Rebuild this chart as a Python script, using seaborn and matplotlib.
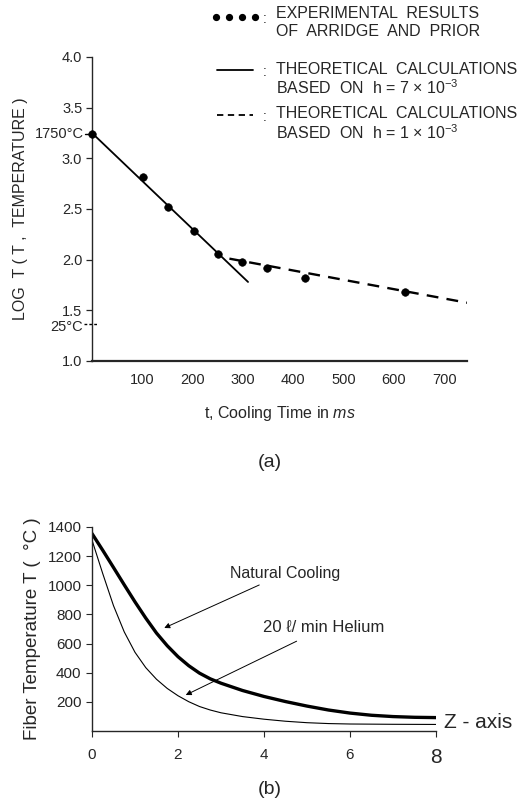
import numpy as np
import pandas as pd
import matplotlib
matplotlib.use("Agg")
import matplotlib.pyplot as plt
from matplotlib.lines import Line2D
import seaborn as sns

# ---------------- data (a) ----------------
exp_t = [0, 102, 151, 202, 250, 298, 348, 424, 622]
exp_logT = [3.24, 2.82, 2.52, 2.28, 2.06, 1.98, 1.915, 1.82, 1.68]
solid_t = [0, 310]
solid_logT = [3.25, 1.78]
dashed_t = [273, 745]
dashed_logT = [2.01, 1.575]
a_xticks = [100, 200, 300, 400, 500, 600, 700]
a_yticks = [1.0, 1.5, 2.0, 2.5, 3.0, 3.5, 4.0]
mark_hot = 3.24      # 1750 C
mark_cold = 1.37     # 25 C

# ---------------- data (b) ----------------
natural_z = [0, 0.25, 0.5, 0.75, 1.0, 1.25, 1.5, 1.75, 2.0, 2.25, 2.5, 2.75, 3.0, 3.5,
             4.0, 4.5, 5.0, 5.5, 6.0, 6.5, 7.0, 7.5, 8.0]
natural_T = [1355, 1240, 1122, 1003, 886, 775, 672, 585, 510, 448, 397, 358, 328, 278,
             237, 202, 171, 144, 123, 108, 99, 94, 92]
helium_z = [0, 0.25, 0.5, 0.75, 1.0, 1.25, 1.5, 1.75, 2.0, 2.25, 2.5, 2.75, 3.0, 3.5,
            4.0, 4.5, 5.0, 5.5, 6.0, 7.0, 8.0]
helium_T = [1310, 1080, 860, 680, 540, 435, 355, 292, 242, 201, 168, 144, 125, 99,
            81, 67, 57, 51, 48, 46, 45]
b_xticks = [0, 2, 4, 6, 8]
b_yticks = [200, 400, 600, 800, 1000, 1200, 1400]

sns.set_style("ticks")
plt.rcParams['font.family'] = ['Liberation Sans', 'DejaVu Sans']
plt.rcParams['mathtext.fontset'] = 'custom'
plt.rcParams['mathtext.rm'] = 'Liberation Sans'
plt.rcParams['mathtext.it'] = 'Liberation Sans:italic'

W, H = 521, 802
fig = plt.figure(figsize=(W / 100, H / 100), dpi=100)

def box(x0, y0, x1, y1):
    return [x0 / W, 1 - y1 / H, (x1 - x0) / W, (y1 - y0) / H]

def fx(px):
    return px / W

def fy(py):
    return 1 - py / H

# ================= panel (a) =================
ax = fig.add_axes(box(92, 57, 467, 361))
sns.lineplot(x=solid_t, y=solid_logT, ax=ax, color='black', lw=1.3)
sns.lineplot(x=dashed_t, y=dashed_logT, ax=ax, color='black', lw=1.7)
ax.lines[-1].set_dashes((5, 3.5))
sns.scatterplot(x=exp_t, y=exp_logT, ax=ax, color='black', s=30, edgecolor='black',
                zorder=5, clip_on=False)
ax.set_xlim(0, 745)
ax.set_ylim(1.0, 4.0)
ax.set_xticks(a_xticks)
ax.set_xticklabels([str(v) for v in a_xticks], fontsize=10.5)
ax.set_yticks(a_yticks)
ax.set_yticklabels([f"{v:.1f}" for v in a_yticks], fontsize=10.5)
ax.tick_params(axis='x', length=0, pad=9)
ax.tick_params(axis='y', length=4, width=0.9, pad=3, direction='out')
for s in ['top', 'right']:
    ax.spines[s].set_visible(False)
ax.spines['left'].set_linewidth(1.0)
ax.spines['bottom'].set_linewidth(1.6)
ax.set_ylabel("LOG  T ( T ,  TEMPERATURE )", fontsize=11.5)
ax.yaxis.set_label_coords(-0.17, 0.5)
ax.set_xlabel(r"t, Cooling Time in $\it{ms}$", fontsize=11.5, labelpad=12)
# special temperature markers
ax.plot([-14, 0], [mark_hot, mark_hot], color='black', lw=1.0, clip_on=False)
ax.text(-16, mark_hot, "1750°C", ha='right', va='center', fontsize=10.5)
ax.plot([-16, 10], [mark_cold, mark_cold], color='black', lw=1.0, ls=(0, (2, 1.5)),
        clip_on=False)
ax.text(-18, mark_cold - 0.03, "25°C", ha='right', va='center', fontsize=10.5)

fig.text(270 / W, fy(463), "(a)", ha='center', va='center', fontsize=14)

# legend of (a)
fig.add_artist(Line2D([fx(v) for v in [216, 229, 242, 255]], [fy(17)] * 4,
                      transform=fig.transFigure, ls='none', marker='o', ms=4.2, color='black'))
fig.add_artist(Line2D([fx(217), fx(253)], [fy(70)] * 2, transform=fig.transFigure,
                      color='black', lw=1.3))
fig.add_artist(Line2D([fx(217), fx(253)], [fy(115)] * 2, transform=fig.transFigure,
                      color='black', lw=1.3, dashes=(3.5, 2.5)))
leg_fs = 11.5
for py in [19, 72, 117]:
    fig.text(fx(263), fy(py), ":", ha='left', va='center', fontsize=10)
leg_lines = [
    (14, "EXPERIMENTAL  RESULTS"),
    (32, "OF  ARRIDGE  AND  PRIOR"),
    (69, "THEORETICAL  CALCULATIONS"),
    (88, r"BASED  ON  h = 7 $\times$ 10$^{-3}$"),
    (114, "THEORETICAL  CALCULATIONS"),
    (133, r"BASED  ON  h = 1 $\times$ 10$^{-3}$"),
]
for py, txt in leg_lines:
    fig.text(fx(276), fy(py), txt, ha='left', va='center', fontsize=leg_fs)

# ================= panel (b) =================
bx = fig.add_axes(box(92, 527, 436, 731))
dfn = pd.DataFrame({"z": natural_z, "T": natural_T})
dfh = pd.DataFrame({"z": helium_z, "T": helium_T})
sns.lineplot(data=dfn, x="z", y="T", ax=bx, color='black', lw=2.4)
sns.lineplot(data=dfh, x="z", y="T", ax=bx, color='black', lw=0.8)
bx.set_xlim(0, 8)
bx.set_ylim(0, 1400)
bx.set_xticks(b_xticks)
bx.set_xticklabels([str(v) for v in b_xticks], fontsize=11)
bx.get_xticklabels()[-1].set_fontsize(15)
bx.set_yticks(b_yticks)
bx.set_yticklabels([str(v) for v in b_yticks], fontsize=11)
bx.tick_params(axis='both', length=4, width=0.8, direction='out')
bx.tick_params(axis='x', pad=8)
for s in ['top', 'right']:
    bx.spines[s].set_visible(False)
for s in ['left', 'bottom']:
    bx.spines[s].set_linewidth(1.0)
bx.set_xlabel("")
bx.set_ylabel("Fiber Temperature T (  °C )", fontsize=13.5, labelpad=5)

arrow = dict(arrowstyle='-|>', color='black', lw=0.7, mutation_scale=8)
bx.annotate("Natural Cooling", xy=(1.68, 707), xytext=(3.22, 1084), fontsize=11.5,
            ha='left', va='center', arrowprops=dict(arrow, shrinkA=2, shrinkB=0))
bx.annotate("20 ℓ/ min Helium", xy=(2.18, 247), xytext=(3.98, 707), fontsize=12,
            ha='left', va='center', arrowprops=dict(arrow, shrinkA=4, shrinkB=0),
            family=['Liberation Sans', 'DejaVu Sans'])
bx.text(8.18, 55, "Z - axis", ha='left', va='center', fontsize=15, clip_on=False)

fig.text(270 / W, fy(789), "(b)", ha='center', va='center', fontsize=14)

fig.savefig("out.png", dpi=100)
